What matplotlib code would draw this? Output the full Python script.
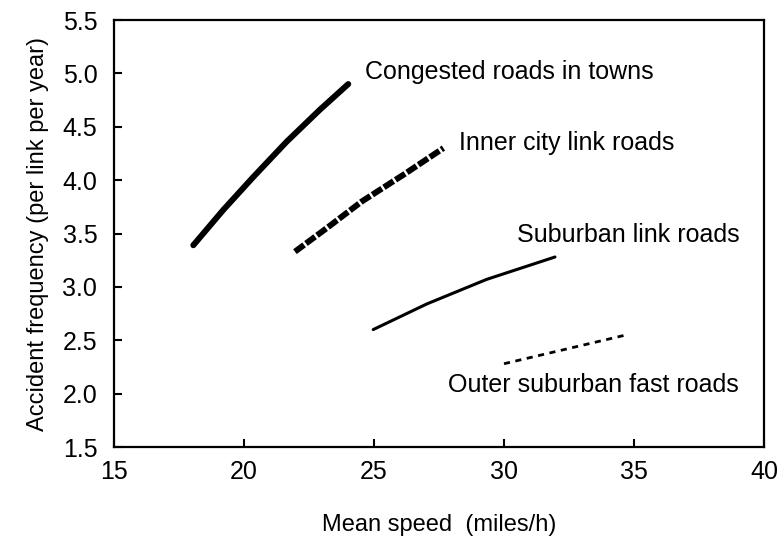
import matplotlib
matplotlib.use("Agg")
import matplotlib.pyplot as plt

plt.rcParams['font.family'] = ['Liberation Sans', 'DejaVu Sans']

# Data
congested_x = [18.05, 19.2, 20.36, 21.64, 22.92, 24.01]
congested_y = [3.39, 3.72, 4.03, 4.36, 4.66, 4.90]
inner_x = [21.96, 23.18, 24.53, 26.13, 27.67]
inner_y = [3.33, 3.55, 3.80, 4.05, 4.30]
suburban_x = [24.97, 27.03, 29.33, 31.96]
suburban_y = [2.60, 2.84, 3.07, 3.28]
outer_x = [30.0, 34.7]
outer_y = [2.28, 2.55]

labels = ["Congested roads in towns", "Inner city link roads",
          "Suburban link roads", "Outer suburban fast roads"]
label_x = [24.65, 28.25, 30.5, 27.85]
label_y = [5.01, 4.35, 3.49, 2.08]

x_ticks = [15, 20, 25, 30, 35, 40]
y_ticks = [1.5, 2.0, 2.5, 3.0, 3.5, 4.0, 4.5, 5.0, 5.5]

fig = plt.figure(figsize=(7.77, 5.45), dpi=100)
ax = fig.add_axes([0.1467, 0.1798, 0.8366, 0.7835])

ax.plot(congested_x, congested_y, color='black', lw=4.3, solid_capstyle='round',
        solid_joinstyle='round')
ax.plot(inner_x, inner_y, color='black', lw=4.3, dashes=(1.9, 0.4), dash_capstyle='butt')
ax.plot(suburban_x, suburban_y, color='black', lw=2.2, solid_capstyle='round',
        solid_joinstyle='round')
ax.plot(outer_x, outer_y, color='black', lw=2.0, dashes=(2.2, 2.0))

for t, x, y in zip(labels, label_x, label_y):
    ax.text(x, y, t, fontsize=18, va='center', ha='left')

ax.set_xlim(15, 40)
ax.set_ylim(1.5, 5.5)
ax.set_xticks(x_ticks)
ax.set_yticks(y_ticks)
ax.set_xticklabels([str(v) for v in x_ticks])
ax.set_yticklabels([f"{v:.1f}" for v in y_ticks])
ax.tick_params(direction='in', length=6, width=1.5, labelsize=18)
ax.tick_params(axis='y', pad=12)
ax.tick_params(axis='x', pad=9)
for s in ax.spines.values():
    s.set_linewidth(1.6)

ax.set_xlabel("Mean speed  (miles/h)", fontsize=17, labelpad=22)
ax.set_ylabel("Accident frequency (per link per year)", fontsize=17, labelpad=10)

fig.savefig("out.png", dpi=100)
